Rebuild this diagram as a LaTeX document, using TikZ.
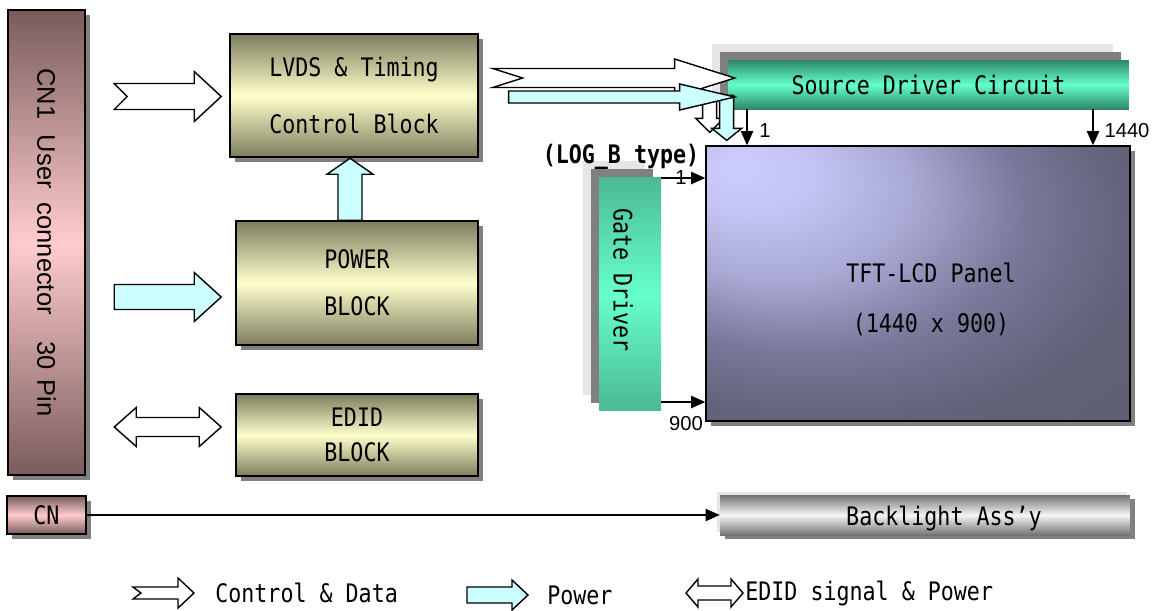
\documentclass[tikz,border=0pt]{standalone}
\usepackage{fontspec}
\usepackage{graphicx}
\usetikzlibrary{arrows.meta, positioning, calc, shadows}
\newfontfamily\lcdfont[FakeStretch=0.85]{DejaVu Sans Mono}
\newfontfamily\numfont{Liberation Sans}

\definecolor{olivedark}{RGB}{125,125,95}
\definecolor{cream}{RGB}{255,255,204}
\definecolor{pinkdark}{RGB}{122,92,92}
\definecolor{pinklight}{RGB}{255,204,204}
\definecolor{greendark}{RGB}{45,135,105}
\definecolor{greenlight}{RGB}{102,255,204}
\definecolor{gategreen}{RGB}{75,185,148}
\definecolor{powercyan}{RGB}{204,255,255}
\definecolor{shadowgray}{RGB}{128,128,128}
\definecolor{palegray}{RGB}{230,230,230}
\definecolor{bldark}{RGB}{115,115,115}
\definecolor{bllight}{RGB}{245,245,245}

\pgfdeclareradialshading{panelshade}{\pgfpoint{-22bp}{22bp}}{rgb(0bp)=(0.8,0.8,1); rgb(7bp)=(0.77,0.77,0.96); rgb(16bp)=(0.66,0.66,0.83); rgb(26bp)=(0.47,0.47,0.6); rgb(36bp)=(0.38,0.38,0.47); rgb(65bp)=(0.35,0.35,0.43)}

\tikzstyle{block} = [rectangle, inner sep=0pt, align=center, draw=black, line width=0.9pt, top color=olivedark, bottom color=olivedark, middle color=cream, drop shadow={shadow xshift=0.1cm, shadow yshift=-0.1cm, fill=shadowgray, opacity=1}]
\tikzstyle{conn} = [rectangle, inner sep=0pt, draw=black, line width=0.9pt, top color=pinkdark, bottom color=pinkdark, middle color=pinklight, drop shadow={shadow xshift=0.1cm, shadow yshift=-0.1cm, fill=shadowgray, opacity=1}]
\tikzstyle{driver} = [rectangle, inner sep=0pt, top color=greendark, bottom color=greendark, middle color=greenlight, general shadow={shadow xshift=-0.32cm, shadow yshift=0.32cm, fill=palegray}, general shadow={shadow xshift=-0.16cm, shadow yshift=0.16cm, fill=shadowgray}]
\tikzstyle{gatebox} = [driver, top color=gategreen, bottom color=gategreen, middle color=greenlight]
\tikzstyle{panelbox} = [rectangle, inner sep=0pt, draw=black, line width=0.9pt, shading=panelshade, drop shadow={shadow xshift=0.1cm, shadow yshift=-0.1cm, fill=shadowgray, opacity=1}]
\tikzstyle{backbar} = [rectangle, inner sep=0pt, top color=bldark, bottom color=bldark, middle color=bllight, general shadow={shadow xshift=-0.06cm, shadow yshift=0.06cm, fill=palegray}, drop shadow={shadow xshift=0.1cm, shadow yshift=-0.08cm, fill=shadowgray, opacity=1}]
\tikzstyle{txt} = [inner sep=0pt, font=\lcdfont\fontsize{14.5}{17}\selectfont]
\tikzstyle{numtext} = [inner sep=0pt, font=\numfont\fontsize{11.5}{13}\selectfont]
\tikzstyle{arrow} = [line width=0.7pt, -{Triangle[length=8pt, width=7pt]}]
\tikzstyle{dataarrow} = [draw, fill=white, line width=0.8pt]
\tikzstyle{powerarrow} = [draw, fill=powercyan, line width=0.8pt]

\tikzset{
  pics/fat/.style args={#1/#2/#3/#4/#5}{code={
    \path[pic actions] (0,-#2) -- (#1-#4,-#2) -- (#1-#4,-#3) -- (#1,0) -- (#1-#4,#3) -- (#1-#4,#2) -- (0,#2) -- (#5,0) -- cycle;
  }},
  pics/fatboth/.style args={#1/#2/#3/#4}{code={
    \path[pic actions] (0,0) -- (#4,-#3) -- (#4,-#2) -- (#1-#4,-#2) -- (#1-#4,-#3) -- (#1,0) -- (#1-#4,#3) -- (#1-#4,#2) -- (#4,#2) -- (#4,#3) -- cycle;
  }}
}

\begin{document}
\begin{tikzpicture}[x=0.02cm, y=-0.02cm]
        \useasboundingbox (0,0) rectangle (1159,610);

        % left side
        \node (cn1) [conn, minimum width=1.54cm, minimum height=9.3cm] at (46.5,242.5) {\rotatebox{-90}{\numfont\fontsize{14.5}{16}\selectfont CN1\hspace{9pt}User\hspace{8pt}connector\hspace{15pt}30\hspace{6pt}Pin}};
        \node (lvds) [block, minimum width=4.96cm, minimum height=2.46cm, font=\lcdfont\fontsize{14.5}{32}\selectfont] at (354,95.5) {LVDS \& Timing\\Control Block};
        \node (power) [block, minimum width=4.84cm, minimum height=2.48cm, font=\lcdfont\fontsize{14.5}{26.6}\selectfont] at (357,283) {POWER\\BLOCK};
        \node (edid) [block, minimum width=4.84cm, minimum height=1.64cm, font=\lcdfont\fontsize{14.5}{20}\selectfont] at (357,435) {EDID\\BLOCK};
        \node (cn) [conn, minimum width=1.58cm, minimum height=0.76cm, font=\lcdfont\fontsize{14.5}{17}\selectfont] at (46.5,515) {CN};

        % panel side
        \node (src) [driver, minimum width=8.02cm, minimum height=0.98cm, font=\lcdfont\fontsize{14.5}{17}\selectfont] at (928.5,84.5) {Source Driver Circuit};
        \node (panel) [panelbox, minimum width=8.48cm, minimum height=5.5cm] at (918,283.5) {};
        \node (paneltext) [txt, align=center, font=\lcdfont\fontsize{14.5}{28.3}\selectfont] at ($(panel.center)+(13,16)$) {TFT-LCD Panel\\(1440 x 900)};
        \node (gate) [gatebox, minimum width=1.24cm, minimum height=4.68cm] at (630,294) {};
        \node (gatetext) [txt] at ($(gate.center)+(-7,-14)$) {\rotatebox{-90}{Gate Driver}};
        \node (logb) [inner sep=0pt, font=\lcdfont\bfseries\fontsize{14.5}{16}\selectfont] at (621,157) {(LOG\_B type)};
        \node (back) [backbar, minimum width=8.2cm, minimum height=0.8cm] at (925,515) {};
        \node (backtext) [txt] at ($(back.center)+(19,3)$) {Backlight Ass’y};

        % pin labels
        \node (n1) [numtext] at (765,131) {1};
        \node (n1440) [numtext] at (1127,131) {1440};
        \node (g1) [numtext] at (681,178) {1};
        \node (g900) [numtext] at (686,424) {900};

        \coordinate (s1) at (747,0);
        \coordinate (s1440) at (1093,0);
        \coordinate (row1) at (0,178);
        \coordinate (row900) at (0,402);
        \draw [arrow] (src.south -| s1) -- (panel.north -| s1);
        \draw [arrow] (src.south -| s1440) -- (panel.north -| s1440);
        \draw [arrow] (gate.east |- row1) -- (panel.west |- row1);
        \draw [arrow] (gate.east |- row900) -- (panel.west |- row900);
        \draw [arrow] (cn.east) -- (cn.east -| back.west);

        % block arrows
        \coordinate (cdtail) at ($(lvds.west)+(-115,1)$);
        \coordinate (pwtail) at ($(power.west)+(-121,14)$);
        \coordinate (edtip) at ($(edid.west)+(-121,-8)$);
        \coordinate (pwrup) at ($(power.north)+(-7,0)$);
        \coordinate (dnw) at ($(src.south west)+(-18,-12)$);
        \coordinate (dnc) at ($(src.south west)+(-1,-14)$);
        \coordinate (srccd) at ($(src.west)+(-235,-6.5)$);
        \coordinate (srcpw) at ($(src.west)+(-219,12.5)$);
        \pic [dataarrow] at (cdtail) {fat={107/13/25/27/13}};
        \pic [powerarrow] at (pwtail) {fat={107/12.5/24.5/27/0}};
        \pic [dataarrow] at (edtip) {fatboth={107/9.5/19.5/22}};
        \pic [powerarrow, rotate=90] at (pwrup) {fat={62/12/23/16/0}};
        \pic [dataarrow, rotate=-90] at (dnw) {fat={35/7/14/14/0}};
        \pic [powerarrow, rotate=-90] at (dnc) {fat={45/7/15/12/0}};
        \pic [dataarrow] at (srccd) {fat={242/9.5/19/60/30}};
        \pic [powerarrow] at (srcpw) {fat={226/6/13/55/0}};

        % legend
        \coordinate (lgcd) at (133,593);
        \coordinate (lgpw) at (467,595);
        \coordinate (lged) at (686,593);
        \pic [dataarrow] at (lgcd) {fat={61/6/15/16/8}};
        \pic [powerarrow] at (lgpw) {fat={61/8/15/16/0}};
        \pic [dataarrow] at (lged) {fatboth={57/7/14/12}};
        \node (lgcdtext) [txt, right=1.64cm of lgcd] {Control \& Data};
        \node (lgpwtext) [txt, right=1.6cm of lgpw] {Power};
        \node (lgedtext) [txt, right=1.18cm of lged] {EDID signal \& Power};
\end{tikzpicture}
\end{document}
